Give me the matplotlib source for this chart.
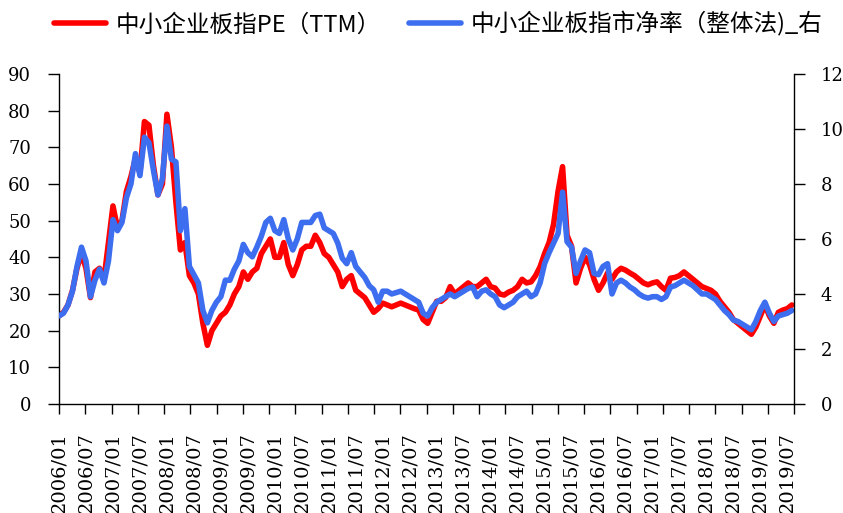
import matplotlib
matplotlib.use("Agg")
import matplotlib.pyplot as plt
import numpy as np

plt.rcParams['font.family'] = ['Noto Sans CJK SC', 'DejaVu Sans']

# monthly readings, 2006/01 .. 2019/08
pe_ttm = [
    24, 25, 27, 31, 37, 41, 37, 29, 36, 37, 34, 44,            # 2006
    54, 48, 50, 58, 62, 67, 63, 77, 76, 65, 57, 60,            # 2007
    79, 70, 55, 42, 44, 35, 33, 30, 22, 16, 20, 22,            # 2008
    24, 25, 27, 30, 32, 36, 34, 36, 37, 41, 43, 45,            # 2009
    40, 40, 44, 38, 35, 38, 42, 43, 43, 46, 44, 41,            # 2010
    40, 38, 36, 32, 34, 35, 31, 30, 29, 27, 25, 26,            # 2011
    27.5, 27, 26.5, 27, 27.5, 27, 26.5, 26, 25.6, 23, 22, 25,  # 2012
    28, 28, 29, 32, 30, 31, 32, 33, 32, 32, 33, 34,            # 2013
    32, 31.6, 30, 29.7, 30.5, 31, 32, 34, 33, 33.3, 35, 37.4,  # 2014
    41, 44, 49, 58, 64.7, 46, 43, 33, 37, 40, 38, 34,          # 2015
    31, 33, 35.7, 34, 36, 37, 36.5, 35.7, 35, 34, 33, 32.5,    # 2016
    33, 33.3, 32, 31, 34.3, 34.5, 35, 36, 35, 34, 33, 32,      # 2017
    31.5, 31, 30, 28, 26.5, 25, 23, 22, 21, 20, 19, 21,        # 2018
    24, 27, 24, 22, 25, 25.6, 26, 27,                          # 2019
]

pb_whole = [
    3.2, 3.3, 3.6, 4.1, 5.0, 5.7, 5.2, 3.9, 4.5, 4.9, 4.4, 5.2,          # 2006
    6.7, 6.3, 6.6, 7.5, 8.0, 9.1, 8.3, 9.7, 9.5, 8.5, 7.6, 8.2,          # 2007
    10.1, 8.9, 8.8, 6.3, 7.1, 5.0, 4.7, 4.4, 3.4, 2.95, 3.4, 3.7,        # 2008
    3.9, 4.5, 4.5, 4.9, 5.2, 5.8, 5.5, 5.35, 5.7, 6.1, 6.6, 6.75,        # 2009
    6.3, 6.2, 6.7, 6.0, 5.6, 6.0, 6.6, 6.6, 6.6, 6.85, 6.9, 6.4,         # 2010
    6.3, 6.2, 5.85, 5.3, 5.1, 5.5, 5.0, 4.8, 4.6, 4.3, 4.15, 3.7,        # 2011
    4.1, 4.1, 4.0, 4.05, 4.1, 4.0, 3.9, 3.8, 3.7, 3.3, 3.2, 3.5,         # 2012
    3.7, 3.8, 3.9, 4.0, 3.9, 4.0, 4.1, 4.2, 4.25, 3.9, 4.1, 4.15,        # 2013
    4.0, 3.9, 3.6, 3.5, 3.6, 3.7, 3.9, 4.0, 4.1, 3.9, 4.0, 4.4,          # 2014
    5.1, 5.5, 5.85, 6.2, 7.7, 5.9, 5.7, 4.75, 5.2, 5.6, 5.5, 4.75,       # 2015
    4.7, 5.0, 5.1, 4.0, 4.4, 4.5, 4.4, 4.25, 4.15, 4.0, 3.9, 3.85,       # 2016
    3.9, 3.9, 3.8, 3.9, 4.25, 4.3, 4.4, 4.5, 4.4, 4.3, 4.15, 4.0,        # 2017
    4.0, 3.9, 3.8, 3.6, 3.4, 3.25, 3.05, 3.0, 2.9, 2.8, 2.7, 3.0,        # 2018
    3.4, 3.7, 3.3, 3.0, 3.2, 3.25, 3.3, 3.4,                             # 2019
]

date_labels = [f"{y}/{m:02d}" for y in range(2006, 2020) for m in (1, 7)]

label_pe = "中小企业板指PE（TTM）"
label_pb = "中小企业板指市净率（整体法)_右"

red = "#FF0000"
blue = "#3D6EEF"

fig = plt.figure(figsize=(8.43, 5.13), dpi=100)
ax = fig.add_axes([0.070, 0.2125, 0.872, 0.6435])
ax2 = ax.twinx()

x = np.arange(len(pe_ttm))
l1, = ax.plot(x, pe_ttm, color=red, lw=4.0, solid_joinstyle='round',
              solid_capstyle='round')
l2, = ax2.plot(x, pb_whole, color=blue, lw=4.0, solid_joinstyle='round',
               solid_capstyle='round')
ax2.set_zorder(ax.get_zorder() + 1)
ax2.patch.set_visible(False)

xmax = len(pe_ttm) - 0.5
ax.set_xlim(0, xmax)
ax.set_ylim(0, 90)
ax2.set_ylim(0, 12)
ax.set_yticks(np.arange(0, 91, 10))
ax2.set_yticks(np.arange(0, 13, 2))

label_pos = np.linspace(0, 162, len(date_labels))
tick_pos = np.linspace(0, xmax, len(date_labels) + 1)
ax.xaxis.remove_overlapping_locs = False
ax.set_xticks(tick_pos)
ax.set_xticklabels([])
ax.set_xticks(label_pos, minor=True)
ax.set_xticklabels(date_labels, minor=True, rotation=90, fontsize=14,
                   family='DejaVu Serif')
ax.tick_params(axis='x', which='minor', length=0, pad=20)
ax.tick_params(axis='x', which='major', length=7, width=1, direction='out')

for a in (ax, ax2):
    a.spines['top'].set_visible(False)
    for s in a.spines.values():
        s.set_linewidth(1.0)
        s.set_color('black')
ax.spines['right'].set_visible(False)
ax2.spines['left'].set_visible(False)
ax2.spines['bottom'].set_visible(False)

ax.tick_params(axis='y', length=8, width=1, labelsize=13, direction='out', pad=12)
ax2.tick_params(axis='y', length=8, width=1, labelsize=13, direction='out', pad=11)
for t in ax.get_yticklabels() + ax2.get_yticklabels():
    t.set_family('DejaVu Serif')

fig.legend([l1, l2], [label_pe, label_pb], loc='center', ncol=2,
           bbox_to_anchor=(0.52, 0.953), frameon=False, fontsize=17,
           handlelength=2.2, handletextpad=0.4, columnspacing=1.2,
           borderpad=0.2)

fig.savefig("out.png", dpi=100)
